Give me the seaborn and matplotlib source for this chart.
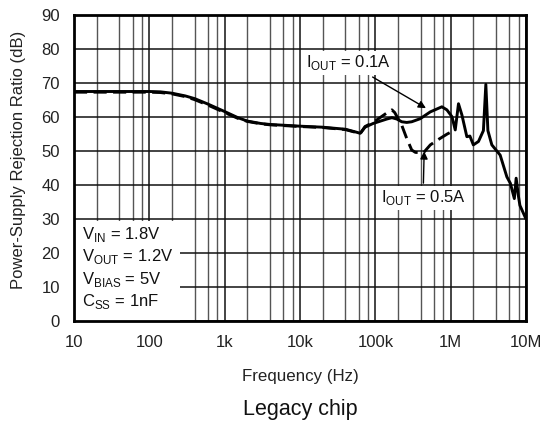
import numpy as np
import pandas as pd
import matplotlib
matplotlib.use("Agg")
import matplotlib.pyplot as plt
from matplotlib.ticker import FixedLocator, LogLocator, NullFormatter
from matplotlib.patches import Rectangle
import seaborn as sns

# ---- data ----
freq_01 = [10, 20, 50, 100, 140, 200, 300, 400, 600, 1000, 1500, 2000, 3000, 4000,
           7000, 10000, 20000, 40000, 56800, 63000, 73000, 93500, 142000, 166000,
           193000, 224000, 261000, 304000, 394000, 536000, 764000, 891000, 1040000,
           1150000, 1270000, 1410000, 1640000, 1800000, 2000000, 2340000, 2720000,
           2930000, 3120000, 3520000, 4540000, 5570000, 6200000, 7000000, 7400000,
           7900000, 8300000, 10000000]
psrr_01 = [67.5, 67.5, 67.5, 67.5, 67.4, 67.0, 66.2, 65.4, 63.8, 61.6, 59.8, 58.8,
           58.1, 57.8, 57.5, 57.3, 57.0, 56.4, 55.5, 55.2, 57.0, 58.1, 59.4, 59.8,
           59.4, 58.6, 58.4, 58.6, 59.5, 61.5, 63.0, 62.1, 60.1, 56.2, 63.9, 60.6,
           54.2, 54.4, 51.8, 52.8, 56.0, 69.6, 56.0, 51.8, 48.8, 42.4, 40.5, 36.0,
           42.0, 37.0, 34.0, 30.0]

freq_05 = [10, 20, 50, 100, 140, 200, 300, 400, 600, 1000, 1500, 2000, 3000, 4000,
           7000, 10000, 20000, 40000, 56800, 63000, 73000, 93500, 142000, 166000,
           181000, 224000, 261000, 304000, 340000, 394000, 436000, 537000, 700000,
           900000, 1150000]
psrr_05 = [67.3, 67.3, 67.3, 67.3, 67.2, 66.8, 66.0, 65.1, 63.5, 61.3, 59.6, 58.7,
           58.0, 57.7, 57.4, 57.2, 56.9, 56.3, 55.4, 55.1, 57.2, 58.4, 61.2, 62.1,
           61.3, 57.6, 53.7, 50.3, 49.6, 49.5, 49.5, 51.8, 53.5, 55.0, 56.2]

xtick_vals = [10, 100, 1e3, 1e4, 1e5, 1e6, 1e7]
xtick_labels = ["10", "100", "1k", "10k", "100k", "1M", "10M"]
ytick_vals = [0, 10, 20, 30, 40, 50, 60, 70, 80, 90]

cond_lines = [r"V$_{\mathregular{IN}}$ = 1.8V",
              r"V$_{\mathregular{OUT}}$ = 1.2V",
              r"V$_{\mathregular{BIAS}}$ = 5V",
              r"C$_{\mathregular{SS}}$ = 1nF"]
label_01 = r"I$_{\mathregular{OUT}}$ = 0.1A"
label_05 = r"I$_{\mathregular{OUT}}$ = 0.5A"

# ---- style ----
sns.set_style("white")
plt.rcParams["font.family"] = ["Liberation Sans", "DejaVu Sans"]
plt.rcParams["mathtext.fontset"] = "custom"
plt.rcParams["mathtext.rm"] = "Liberation Sans"

W, H = 543, 424
fig = plt.figure(figsize=(W / 100, H / 100), dpi=100)
ax = fig.add_axes([74 / W, 1 - 321 / H, 452 / W, 306 / H])

sns.lineplot(x=freq_01, y=psrr_01, ax=ax, color="black", lw=2.1, zorder=3,
             estimator=None)
sns.lineplot(x=freq_05, y=psrr_05, ax=ax, color="black", lw=2.1, zorder=3,
             estimator=None, linestyle=(0, (4.5, 2.2)))

ax.set_xscale("log")
ax.set_xlim(10, 1e7)
ax.set_ylim(0, 90)
ax.xaxis.set_major_locator(FixedLocator(xtick_vals))
ax.set_xticklabels(xtick_labels)
ax.xaxis.set_minor_locator(LogLocator(base=10, subs=[2, 4, 6, 8], numticks=20))
ax.xaxis.set_minor_formatter(NullFormatter())
ax.set_yticks(ytick_vals)
ax.tick_params(axis="both", which="both", length=0, labelsize=12,
               colors="#222222")
ax.tick_params(axis="x", pad=10)
ax.tick_params(axis="y", pad=10)

ax.set_axisbelow(True)
ax.grid(which="major", axis="both", color="#111111", lw=1.1)
ax.grid(which="minor", axis="x", color="#555555", lw=1.0)
for s in ax.spines.values():
    s.set_color("black")
    s.set_linewidth(2.0)

ax.set_xlabel("")
ax.set_ylabel("")
fig.text(18.5 / W, 1 - 160 / H, "Power-Supply Rejection Ratio (dB)", rotation=90,
         fontsize=12, color="#222222", ha="center", va="center")
fig.text(300 / W, 1 - 377 / H, "Frequency (Hz)", fontsize=12.2, color="#222222",
         ha="center", va="center")
fig.text(300 / W, 1 - 410 / H, "Legacy chip", fontsize=15.5, ha="center",
         va="center", color="#111111")

# condition box
ax.add_patch(Rectangle((0, 0), 106 / 452, 0.327, transform=ax.transAxes,
                       facecolor="white", edgecolor="none", zorder=1.5))
for i, t in enumerate(cond_lines):
    ax.text(0.018, 0.283 - i * 0.0735, t, transform=ax.transAxes, fontsize=12,
            va="center", ha="left", zorder=4, color="#111111")

# annotations
ax.annotate(label_01, xy=(4.7e5, 62.6), xytext=(4.4e4, 75.9), fontsize=12,
            ha="center", va="center", zorder=5, color="#111111",
            bbox=dict(boxstyle="square,pad=0.15", fc="white", ec="none"),
            arrowprops=dict(arrowstyle="-|>", color="black", lw=1.0,
                            mutation_scale=11, shrinkA=3, shrinkB=0))
ax.annotate(label_05, xy=(4.45e5, 49.9), xytext=(4.3e5, 36.2), fontsize=12,
            ha="center", va="center", zorder=5, color="#111111",
            bbox=dict(boxstyle="square,pad=0.15", fc="white", ec="none"),
            arrowprops=dict(arrowstyle="-|>", color="black", lw=1.0,
                            mutation_scale=11, shrinkA=2, shrinkB=0))

fig.savefig("out.png", dpi=100)
